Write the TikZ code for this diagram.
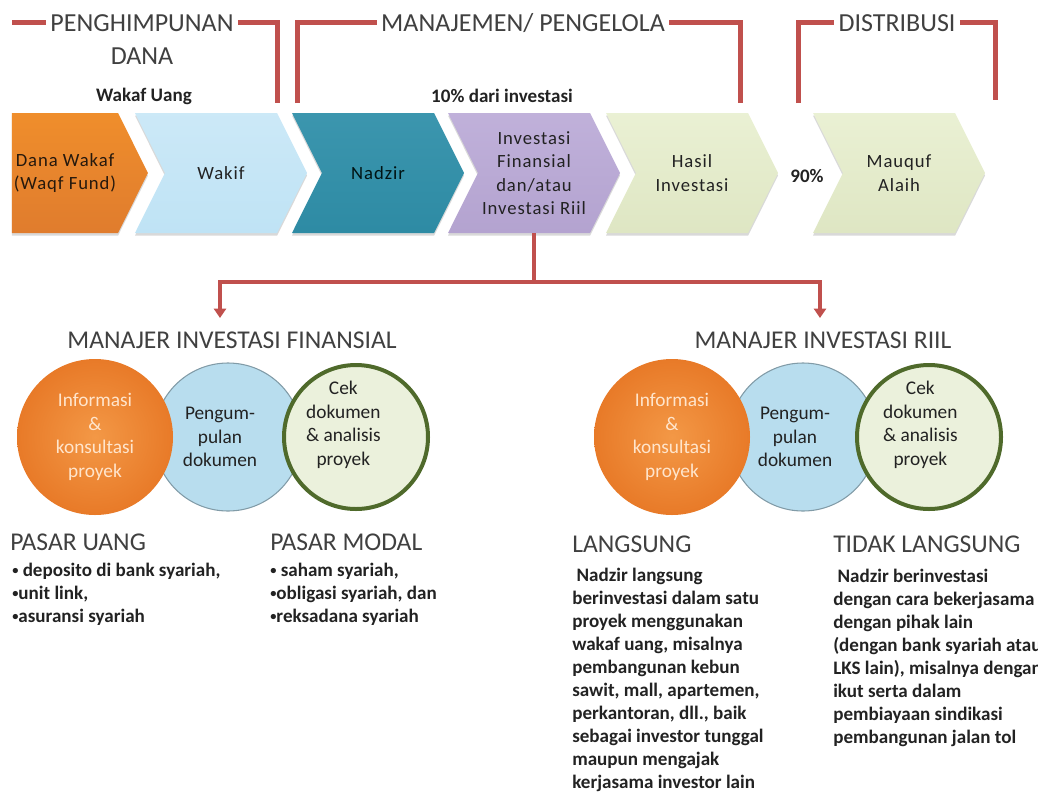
\documentclass[tikz,border=0pt]{standalone}
\usepackage{fontspec}
\setmainfont{Carlito}
\newfontfamily\chevfont[LetterSpace=5]{Carlito}
\usetikzlibrary{shapes.symbols,shadows,arrows.meta,positioning}

\definecolor{brkred}{HTML}{C0504D}
\definecolor{wkorange}{HTML}{EE8430}
\definecolor{wkblue}{HTML}{BFE3F5}
\definecolor{wkteal}{HTML}{2F8FA9}
\definecolor{wkpurple}{HTML}{B9A8D6}
\definecolor{wkgreen}{HTML}{E5EDC9}
\definecolor{ringblue}{HTML}{B8DDEE}
\definecolor{ringgreen}{HTML}{EBF1DC}
\definecolor{ringorin}{HTML}{F39846}
\definecolor{ringorout}{HTML}{E87A28}
\definecolor{olive}{HTML}{4F6A2B}
\definecolor{inktext}{HTML}{222222}

% small raised bullet for the lists
\newcommand{\bul}{\raisebox{1.2pt}{\scalebox{.65}{•}}}

\begin{document}
\begin{tikzpicture}[x=0.75pt,y=-0.75pt]
	\tikzstyle{chev}=[signal, signal to=east, signal from=west, signal pointer angle=127, minimum width=129pt, minimum height=90pt, inner sep=0pt, align=center, text=inktext, font=\chevfont\fontsize{14}{17.6}\selectfont, drop shadow={shadow xshift=0pt, shadow yshift=-2pt, opacity=.3}]
	\tikzstyle{head}=[font=\fontsize{19.5}{23}\selectfont, text=black!75, text height=12.6pt, text depth=0pt, inner sep=3pt]
	\tikzstyle{subhead}=[font=\fontsize{19.2}{23}\selectfont, text=black!75, text height=12.4pt, text depth=0pt, inner sep=0pt]
	\tikzstyle{note}=[font=\bfseries\fontsize{14.3}{16}\selectfont, text=inktext]
	\tikzstyle{ring}=[circle, inner sep=0pt]
	\tikzstyle{ringtext}=[align=center, font=\fontsize{14.5}{17.6}\selectfont, text=inktext]
	\tikzstyle{blist}=[align=left, inner sep=0pt, font=\bfseries\fontsize{14.3}{17.17}\selectfont, text=inktext]
	\tikzstyle{bracket}=[brkred, line width=3.75pt]
	\tikzstyle{link}=[brkred, line width=3pt]

	\useasboundingbox (0,0) rectangle (1042,793);
	\clip (11,0) rectangle (1037,793);

	% stage headings with their brackets
	\node[head] (hpun) at (142,23.5) {PENGHIMPUNAN};
	\node[head, below=5.7pt of hpun] (dana) {DANA};
	\node[head] (kelola) at (523,23.5) {MANAJEMEN/ PENGELOLA};
	\node[head] (distrib) at (897,23.5) {DISTRIBUSI};
	\draw[bracket] (12,22) -- (hpun.west |- 0,22);
	\draw[bracket] (hpun.east |- 0,22) -- (277,22) -- (277,103);
	\draw[bracket] (297,103) -- (297,22) -- (kelola.west |- 0,22);
	\draw[bracket] (kelola.east |- 0,22) -- (740,22) -- (740,103);
	\draw[bracket] (798,103) -- (798,22) -- (distrib.west |- 0,22);
	\draw[bracket] (distrib.east |- 0,22) -- (995,22) -- (995,100);

	\node[note] (uang) at (144,96) {Wakaf Uang};
	\node[note] (persen) at (502,96) {10\% dari investasi};

	% the flow of the fund
	\node[chev, signal from=nowhere, minimum width=102pt, top color=wkorange!92!yellow, bottom color=wkorange!94!black, text=black!80!brown] (fund) at (65,173) {Dana Wakaf\\(Waqf Fund)};
	\node[chev, top color=wkblue!80!white, bottom color=wkblue] (wakif) at (221,173) {Wakif};
	\node[chev, top color=wkteal!94!white, bottom color=wkteal!97!black, text=black!85!teal] (nadzir) at (378,173) {Nadzir};
	\node[chev, top color=wkpurple!90!white, bottom color=wkpurple!97!black] (invest) at (534,173) {Investasi\\Finansial\\dan/atau\\Investasi Riil};
	\node[chev, top color=wkgreen!80!white, bottom color=wkgreen!97!black] (hasil) at (692,173) {Hasil\\Investasi};
	\node[note] (sembilan) at (807,176) {90\%};
	\node[chev, top color=wkgreen!80!white, bottom color=wkgreen!97!black] (mauquf) at (899,173) {Mauquf\\Alaih};

	% split into the two managers
	\coordinate (finarrow) at (220,318);
	\coordinate (riilarrow) at (820,318);
	\draw[link] (invest.south) -- ++(0,49) coordinate (fork);
	\draw[link, -{Triangle[width=9pt,length=7pt]}] (fork) -| (finarrow);
	\draw[link, -{Triangle[width=9pt,length=7pt]}] (fork) -| (riilarrow);

	\node[subhead] (finhead) at (232,340.5) {MANAJER INVESTASI FINANSIAL};
	\node[subhead] (riilhead) at (823,340.5) {MANAJER INVESTASI RIIL};

	% circles, financial side
	\node[ring, minimum size=111pt, fill=ringblue, draw=ringblue!70!black, line width=.8pt] (kumpul1) at (228,437) {};
	\node[ring, minimum size=117pt, inner color=ringorin, outer color=ringorout] (info1) at (95,437) {};
	\node[ring, minimum size=108pt, fill=ringgreen, draw=olive, line width=3pt] (cek1) at (356,437) {};
	\node[ringtext, text=orange!20!white] (info1t) at (info1) {Informasi\\\&\\konsultasi\\proyek};
	\node[ringtext] (kumpul1t) at ([xshift=-6pt]kumpul1.center) {Pengum-\\pulan\\dokumen};
	\node[ringtext] (cek1t) at ([xshift=-9.5pt,yshift=9pt]cek1.center) {Cek\\dokumen\\\& analisis\\proyek};

	% circles, real side
	\node[ring, minimum size=111pt, fill=ringblue, draw=ringblue!70!black, line width=.8pt] (kumpul2) at (803,437) {};
	\node[ring, minimum size=117pt, inner color=ringorin, outer color=ringorout] (info2) at (672,437) {};
	\node[ring, minimum size=108pt, fill=ringgreen, draw=olive, line width=3pt] (cek2) at (929,437) {};
	\node[ringtext, text=orange!20!white] (info2t) at (info2) {Informasi\\\&\\konsultasi\\proyek};
	\node[ringtext] (kumpul2t) at ([xshift=-6pt]kumpul2.center) {Pengum-\\pulan\\dokumen};
	\node[ringtext] (cek2t) at ([xshift=-6.5pt,yshift=9pt]cek2.center) {Cek\\dokumen\\\& analisis\\proyek};

	% instruments and ways of investing
	\node[subhead, anchor=base west] (uanghead) at (10,550) {PASAR UANG};
	\node[blist, anchor=base west] (uanglist) at (12,622) {\bul\ deposito di bank syariah,\\\bul unit link,\\\bul asuransi syariah};
	\node[subhead, anchor=base west] (modalhead) at (270,550) {PASAR MODAL};
	\node[blist, anchor=base west] (modallist) at (270,622) {\bul\ saham syariah,\\\bul obligasi syariah, dan\\\bul reksadana syariah};
	\node[subhead, anchor=base west] (langhead) at (572,552) {LANGSUNG};
	\node[blist, anchor=base west] (langtext) at (572,788) {\ Nadzir langsung\\berinvestasi dalam satu\\proyek menggunakan\\wakaf uang, misalnya\\pembangunan kebun\\sawit, mall, apartemen,\\perkantoran, dll., baik\\sebagai investor tunggal\\maupun mengajak\\kerjasama investor lain};
	\node[subhead, anchor=base west] (tidakhead) at (833,552) {TIDAK LANGSUNG};
	\node[blist, anchor=base west] (tidaktext) at (833,743) {\ Nadzir berinvestasi\\dengan cara bekerjasama\\dengan pihak lain\\(dengan bank syariah atau\\LKS lain), misalnya dengan\\ikut serta dalam\\pembiayaan sindikasi\\pembangunan jalan tol};
\end{tikzpicture}
\end{document}
